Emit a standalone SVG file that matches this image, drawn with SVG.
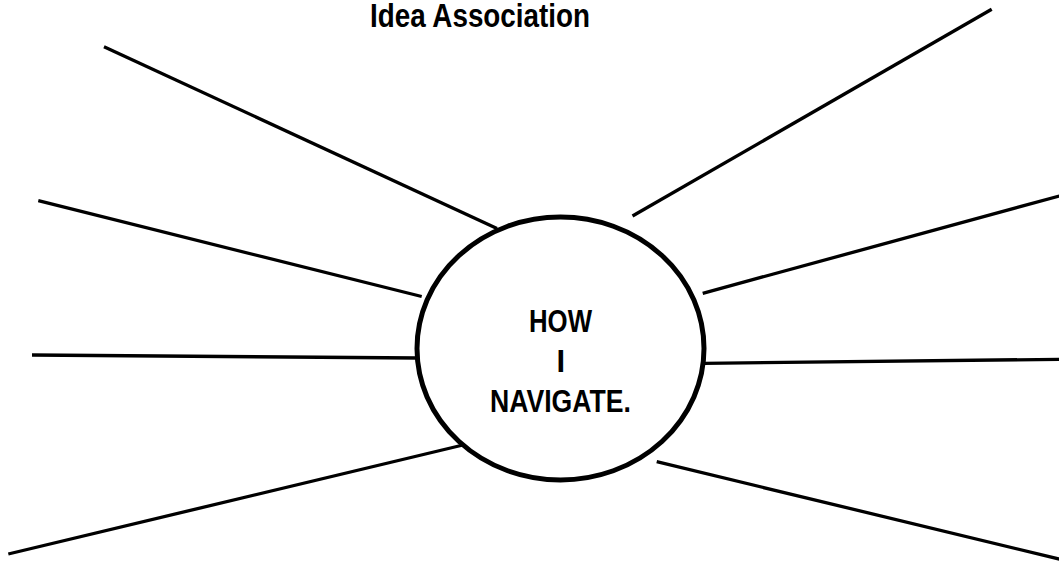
<svg xmlns="http://www.w3.org/2000/svg" width="1059" height="562" viewBox="0 0 1059 562">
<style>
.ln{stroke:#000;stroke-width:3.3;fill:none}
.nd{stroke:#000;stroke-width:5;fill:#fff}
.t{font-family:"Liberation Sans",Arial,sans-serif;font-weight:bold;fill:#000;text-anchor:middle}
</style>
<rect width="1059" height="562" fill="#fff"/>
<g id="title"><text class="t" x="480" y="26.5" font-size="33" textLength="220" lengthAdjust="spacingAndGlyphs">Idea Association</text></g>
<g id="connectors">
<line class="ln" x1="104" y1="46.7" x2="497" y2="228.5"/>
<line class="ln" x1="38.3" y1="200.7" x2="421.7" y2="296.5"/>
<line class="ln" x1="32" y1="355" x2="418" y2="358"/>
<line class="ln" x1="8.3" y1="554" x2="463" y2="445"/>
<line class="ln" x1="632.5" y1="216" x2="991.7" y2="9.3"/>
<line class="ln" x1="702.7" y1="293.3" x2="1059.3" y2="196"/>
<line class="ln" x1="704" y1="363.3" x2="1060" y2="359.3"/>
<line class="ln" x1="656.7" y1="461.7" x2="1060" y2="559.3"/>
</g>
<g id="center">
<ellipse class="nd" cx="560.5" cy="348.5" rx="143.5" ry="131.5"/>
<text class="t" x="560.5" y="332" font-size="31" textLength="63" lengthAdjust="spacingAndGlyphs">HOW</text>
<text class="t" x="560.7" y="372" font-size="31">I</text>
<text class="t" x="560.5" y="412" font-size="31" textLength="141" lengthAdjust="spacingAndGlyphs">NAVIGATE.</text>
</g>
</svg>
